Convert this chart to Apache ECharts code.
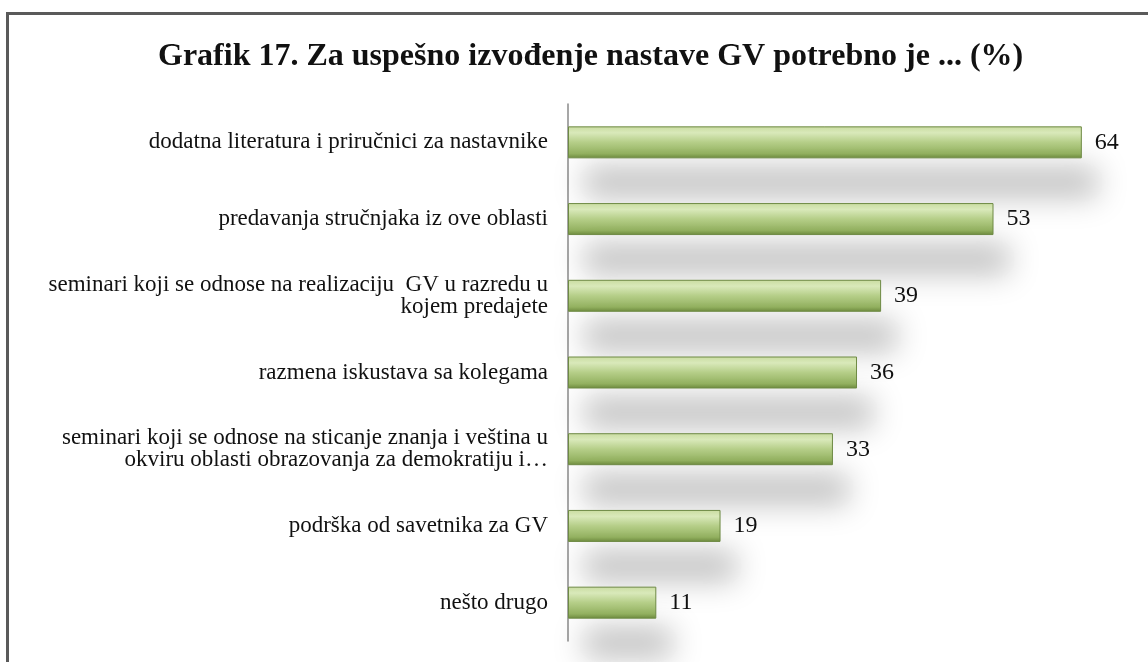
<!DOCTYPE html>
<html>
<head>
<meta charset="utf-8">
<script src="https://cdn.jsdelivr.net/npm/echarts@6/dist/echarts.min.js"></script>
<style>
html,body{margin:0;padding:0;background:#fff;}
#frame{position:absolute;left:6px;top:12px;width:1142px;height:650px;border-left:3px solid #5a5a5a;border-top:3px solid #5a5a5a;box-sizing:border-box;}
#chart{position:absolute;left:0;top:0;width:1148px;height:662px;}
</style>
</head>
<body>
<div id="frame"></div>
<div id="chart"></div>
<script>
var titleText = 'Grafik 17. Za uspešno izvođenje nastave GV potrebno je ... (%)';
var categories = [
  'dodatna literatura i priručnici za nastavnike',
  'predavanja stručnjaka iz ove oblasti',
  'seminari koji se odnose na realizaciju  GV u razredu u\nkojem predajete',
  'razmena iskustava sa kolegama',
  'seminari koji se odnose na sticanje znanja i veština u\nokviru oblasti obrazovanja za demokratiju i…',
  'podrška od savetnika za GV',
  'nešto drugo'
];
var values = [64, 53, 39, 36, 33, 19, 11];

var chart = echarts.init(document.getElementById('chart'));
var serif = '"Liberation Serif", "DejaVu Serif", serif';
chart.setOption({
  backgroundColor: 'transparent',
  animation: false,
  title: {
    text: titleText,
    left: 153,
    top: 36,
    textStyle: {fontFamily: serif, fontWeight: 'bold', fontSize: 32, color: '#111'}
  },
  grid: {left: 568, top: 104, width: 562, height: 537, containLabel: false},
  xAxis: {
    type: 'value', min: 0, max: 70, show: false
  },
  yAxis: {
    type: 'category',
    data: categories,
    inverse: true,
    axisLine: {show: true, lineStyle: {color: '#8a8a8a', width: 1.5}},
    axisTick: {show: false},
    axisLabel: {
      margin: 20, fontFamily: serif, fontSize: 23, color: '#111',
      align: 'right', lineHeight: 22
    }
  },
  series: [{
    type: 'bar',
    data: values,
    barWidth: 32,
    label: {
      show: true, position: 'right', distance: 13,
      fontFamily: serif, fontSize: 24, color: '#111'
    },
    itemStyle: {
      color: new echarts.graphic.LinearGradient(0, 0, 0, 1, [
        {offset: 0, color: '#c9dca0'},
        {offset: 0.2, color: '#d9e9ba'},
        {offset: 0.5, color: '#b5ce88'},
        {offset: 0.85, color: '#93b160'},
        {offset: 1, color: '#6c893d'}
      ]),
      borderColor: '#6e8a44',
      borderWidth: 1,
      shadowColor: 'rgba(0,0,0,0.24)',
      shadowBlur: 30,
      shadowOffsetX: 16,
      shadowOffsetY: 40
    }
  }]
});
</script>
</body>
</html>
